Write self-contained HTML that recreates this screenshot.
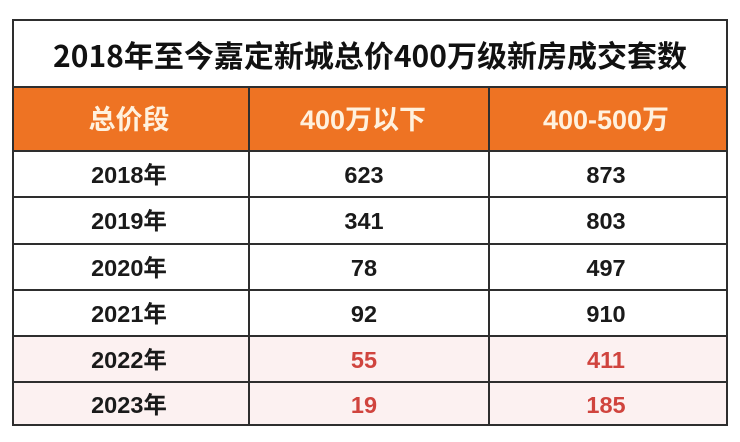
<!DOCTYPE html>
<html><head><meta charset="utf-8"><style>
html,body{margin:0;padding:0;background:#fff;width:740px;height:442px;overflow:hidden}
svg{display:block}
text{font-family:"Liberation Sans","Noto Sans CJK SC",sans-serif;}
</style></head><body>
<svg width="740" height="442" viewBox="0 0 740 442" xmlns="http://www.w3.org/2000/svg">
<rect x="0" y="0" width="740" height="442" fill="#fff"/>
<rect x="13" y="87" width="714" height="64" fill="#EE7323"/>
<rect x="13" y="336" width="714" height="89" fill="#FCF1F1"/>
<g stroke="#2e2e2e" stroke-width="2" fill="none">
<rect x="13" y="20" width="714" height="405"/>
<line x1="13" y1="87" x2="727" y2="87"/>
<line x1="13" y1="151" x2="727" y2="151"/>
<line x1="13" y1="197" x2="727" y2="197"/>
<line x1="13" y1="244" x2="727" y2="244"/>
<line x1="13" y1="290" x2="727" y2="290"/>
<line x1="13" y1="336" x2="727" y2="336"/>
<line x1="13" y1="382" x2="727" y2="382"/>
<line x1="249" y1="87" x2="249" y2="425"/>
<line x1="489" y1="87" x2="489" y2="425"/>
</g>
<text x="370" y="54" dominant-baseline="central" text-anchor="middle" font-size="30" font-weight="bold" fill="#111" style='font-family:"Noto Sans CJK SC",sans-serif'>2018年至今嘉定新城总价400万级新房成交套数</text>
<g font-size="27" font-weight="bold" fill="#FFF1DE" text-anchor="middle" dominant-baseline="central" style='font-family:"Noto Sans CJK SC",sans-serif'>
<text x="129" y="120">总价段</text>
<text x="363" y="120">400万以下</text>
<text x="606" y="120">400-500万</text>
</g>
<g font-size="23.5" font-weight="bold" fill="#1a1a1a" text-anchor="middle" dominant-baseline="central" style='font-family:"Liberation Sans","Noto Sans CJK SC",sans-serif'>
<text x="129" y="175">2018年</text><text x="364" y="175">623</text><text x="606" y="175">873</text>
<text x="129" y="221">2019年</text><text x="364" y="221">341</text><text x="606" y="221">803</text>
<text x="129" y="268">2020年</text><text x="364" y="268">78</text><text x="606" y="268">497</text>
<text x="129" y="314">2021年</text><text x="364" y="314">92</text><text x="606" y="314">910</text>
<text x="129" y="360">2022年</text><text x="364" y="360" fill="#D0443E">55</text><text x="606" y="360" fill="#D0443E">411</text>
<text x="129" y="405">2023年</text><text x="364" y="405" fill="#D0443E">19</text><text x="606" y="405" fill="#D0443E">185</text>
</g>
</svg>
</body></html>
